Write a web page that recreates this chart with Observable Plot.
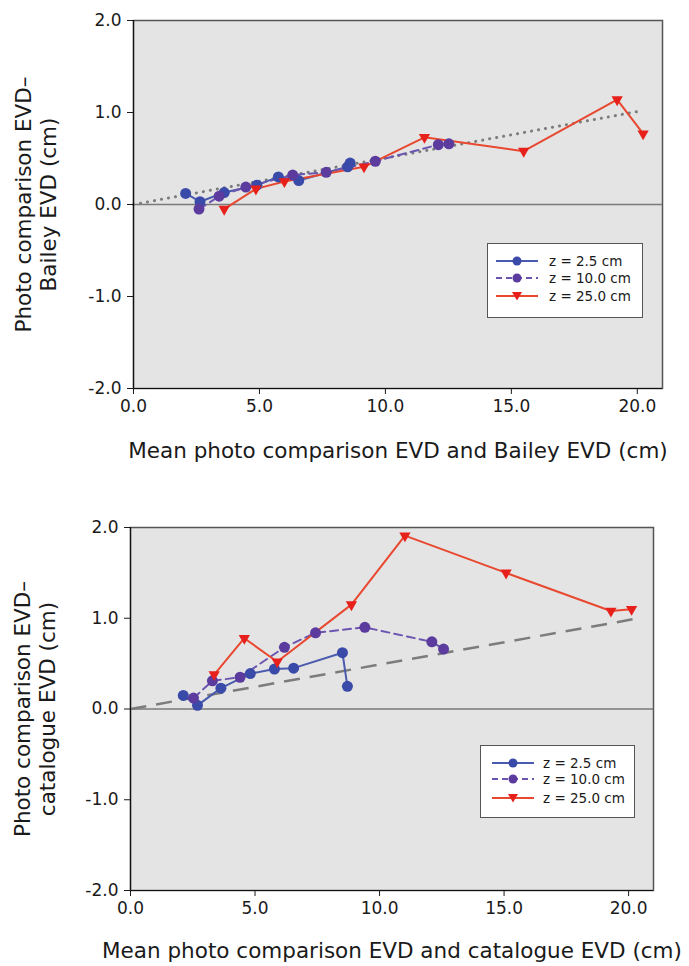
<!DOCTYPE html>
<html>
<head>
<meta charset="utf-8">
<script src="https://cdn.jsdelivr.net/npm/d3@7"></script>
<script src="https://cdn.jsdelivr.net/npm/@observablehq/plot@0.6"></script>
<style>
  html, body { margin: 0; padding: 0; background: #fff; }
  body { width: 689px; height: 966px; position: relative; overflow: hidden; font-family: "DejaVu Sans", sans-serif; }
  .panel { position: absolute; left: 0; }
  .legend { position: absolute; background: #fff; border: 1.5px solid #555; box-sizing: border-box; }
  .legend svg { position: absolute; left: 0; top: 0; }
</style>
</head>
<body>
<div id="top" class="panel" style="top:0"></div>
<div id="bot" class="panel" style="top:480px"></div>
<script>
// ---------- data ----------
const xTicks = [0, 5, 10, 15, 20];
const yTicks = [-2, -1, 0, 1, 2];
const seriesNames = ["z = 2.5 cm", "z = 10.0 cm", "z = 25.0 cm"];

// Top panel: photo comparison vs Bailey
const topBlueX   = [2.07, 2.64, 3.60, 4.90, 5.75, 6.56, 8.50, 8.60];
const topBlueY   = [0.12, 0.03, 0.13, 0.21, 0.30, 0.26, 0.41, 0.45];
const topPurpleX = [2.60, 3.40, 4.46, 6.32, 7.65, 9.60, 12.10, 12.52];
const topPurpleY = [-0.05, 0.09, 0.19, 0.32, 0.35, 0.47, 0.65, 0.66];
const topRedX    = [3.60, 4.86, 5.99, 9.15, 11.55, 15.49, 19.20, 20.23];
const topRedY    = [-0.05, 0.17, 0.25, 0.41, 0.73, 0.58, 1.14, 0.77];
const topRefX    = [0, 20.2];
const topRefY    = [0, 1.02];

// Bottom panel: photo comparison vs catalogue
const botBlueX   = [2.12, 2.69, 3.63, 4.81, 5.78, 6.55, 8.51, 8.71];
const botBlueY   = [0.15, 0.04, 0.23, 0.39, 0.44, 0.45, 0.62, 0.25];
const botPurpleX = [2.53, 3.29, 4.40, 6.18, 7.43, 9.41, 12.10, 12.57];
const botPurpleY = [0.12, 0.31, 0.35, 0.68, 0.84, 0.90, 0.74, 0.66];
const botRedX    = [3.36, 4.57, 5.89, 8.87, 11.02, 15.08, 19.29, 20.12];
const botRedY    = [0.38, 0.78, 0.52, 1.15, 1.91, 1.50, 1.08, 1.10];
const botRefX    = [0, 20.2];
const botRefY    = [0, 0.99];

const topXLabel = "Mean photo comparison EVD and Bailey EVD (cm)";
const topYLabel = "Photo comparison EVD\u2013\nBailey EVD (cm)";
const botXLabel = "Mean photo comparison EVD and catalogue EVD (cm)";
const botYLabel = "Photo comparison EVD\u2013\ncatalogue EVD (cm)";

// ---------- styles ----------
const C = {
  blueLine: "#4a5aae", blueDot: "#3a4aa8",
  purpleLine: "#6b55b0", purpleDot: "#5b3c9e",
  redLine: "#e8482f", redDot: "#e8201c",
  ref: "#7c7c7c", zero: "#7a7a7a", bg: "#e4e4e4"
};

const zip = (xs, ys) => xs.map((x, i) => ({x, y: ys[i]}));

function makeChart(cfg) {
  const blue = zip(cfg.bx, cfg.by), purple = zip(cfg.px, cfg.py), red = zip(cfg.rx, cfg.ry), ref = zip(cfg.refx, cfg.refy);
  return Plot.plot({
    width: 689, height: cfg.height,
    marginLeft: cfg.ml, marginRight: cfg.mr, marginTop: cfg.mt, marginBottom: cfg.mb,
    x: {domain: [0, 21]},
    y: {domain: [-2, 2]},
    style: {fontFamily: "DejaVu Sans, sans-serif", fontSize: "17px", color: "#1a1a1a", background: "transparent", overflow: "visible"},
    marks: [
      Plot.frame({fill: C.bg, stroke: "#555", strokeWidth: 1.5}),
      Plot.ruleY([0], {stroke: C.zero, strokeWidth: 1.5}),
      Plot.line(ref, {x: "x", y: "y", stroke: C.ref, strokeWidth: cfg.refWidth, strokeDasharray: cfg.refDash, strokeLinecap: cfg.refCap}),
      Plot.line(blue, {x: "x", y: "y", stroke: C.blueLine, strokeWidth: 2}),
      Plot.line(purple, {x: "x", y: "y", stroke: C.purpleLine, strokeWidth: 2, strokeDasharray: "8,5"}),
      Plot.line(red, {x: "x", y: "y", stroke: C.redLine, strokeWidth: 2}),
      Plot.dot(blue, {x: "x", y: "y", r: 5.5, fill: C.blueDot}),
      Plot.dot(purple, {x: "x", y: "y", r: 5.5, fill: C.purpleDot}),
      Plot.dot(red, {x: "x", y: "y", r: 4.2, symbol: "triangle", rotate: 180, fill: C.redDot}),
      Plot.ruleX([0], {stroke: "#111", strokeWidth: 1.2}),
      Plot.ruleY([-2], {stroke: "#111", strokeWidth: 1.2}),
      Plot.axisX({ticks: xTicks, tickFormat: d => d.toFixed(1), tickSize: 6, tickPadding: 5, label: null, fontSize: 17}),
      Plot.axisY({ticks: yTicks, tickFormat: d => d.toFixed(1), tickSize: 6, tickPadding: 6, label: null, fontSize: 17}),
      Plot.text([cfg.xLabel], {text: d => d, frameAnchor: "bottom", dy: cfg.xLabelDy, fontSize: 21.5, fill: "#1a1a1a"}),
      Plot.text([cfg.yLabel], {text: d => d, frameAnchor: "left", textAnchor: "middle", lineAnchor: "middle", dx: cfg.yLabelDx, dy: cfg.yLabelDy, rotate: -90, fontSize: 21.5, lineHeight: 1.15, fill: "#1a1a1a"})
    ]
  });
}

document.getElementById("top").appendChild(makeChart({
  height: 480, ml: 133, mr: 27, mt: 20, mb: 92,
  bx: topBlueX, by: topBlueY, px: topPurpleX, py: topPurpleY, rx: topRedX, ry: topRedY,
  refx: topRefX, refy: topRefY, refWidth: 3, refDash: "0.1,7", refCap: "round",
  xLabel: topXLabel, yLabel: topYLabel, xLabelDy: 69, yLabelDx: -98, yLabelDy: 0
}));

document.getElementById("bot").appendChild(makeChart({
  height: 486, ml: 130, mr: 36, mt: 47, mb: 76,
  bx: botBlueX, by: botBlueY, px: botPurpleX, py: botPurpleY, rx: botRedX, ry: botRedY,
  refx: botRefX, refy: botRefY, refWidth: 2.5, refDash: "16,10", refCap: "butt",
  xLabel: botXLabel, yLabel: botYLabel, xLabelDy: 67, yLabelDx: -96, yLabelDy: 0
}));

// ---------- legends ----------
function legend(left, top, w, h, rows, lineX0, lineX1, textX) {
  const div = document.createElement("div");
  div.className = "legend";
  Object.assign(div.style, {left: left + "px", top: top + "px", width: w + "px", height: h + "px"});
  const ns = "http://www.w3.org/2000/svg";
  const svg = document.createElementNS(ns, "svg");
  svg.setAttribute("width", w); svg.setAttribute("height", h);
  const specs = [
    {stroke: C.blueLine, dash: null, fill: C.blueDot, shape: "circle"},
    {stroke: C.purpleLine, dash: "6,4", fill: C.purpleDot, shape: "circle"},
    {stroke: C.redLine, dash: null, fill: C.redDot, shape: "tri"}
  ];
  specs.forEach((s, i) => {
    const y = rows[i];
    const ln = document.createElementNS(ns, "line");
    ln.setAttribute("x1", lineX0); ln.setAttribute("x2", lineX1);
    ln.setAttribute("y1", y); ln.setAttribute("y2", y);
    ln.setAttribute("stroke", s.stroke); ln.setAttribute("stroke-width", 2);
    if (s.dash) ln.setAttribute("stroke-dasharray", s.dash);
    svg.appendChild(ln);
    const cx = (lineX0 + lineX1) / 2;
    let m;
    if (s.shape === "circle") {
      m = document.createElementNS(ns, "circle");
      m.setAttribute("cx", cx); m.setAttribute("cy", y); m.setAttribute("r", 4.5);
    } else {
      m = document.createElementNS(ns, "path");
      m.setAttribute("d", `M${cx - 5},${y - 4}L${cx + 5},${y - 4}L${cx},${y + 4.5}Z`);
    }
    m.setAttribute("fill", s.fill);
    svg.appendChild(m);
    const t = document.createElementNS(ns, "text");
    t.setAttribute("x", textX); t.setAttribute("y", y);
    t.setAttribute("dy", "0.35em");
    t.setAttribute("font-family", "DejaVu Sans, sans-serif");
    t.setAttribute("font-size", "13.5");
    t.setAttribute("fill", "#1a1a1a");
    t.textContent = seriesNames[i];
    svg.appendChild(t);
  });
  div.appendChild(svg);
  document.body.appendChild(div);
}
legend(487, 243, 156, 75, [17, 34, 52], 8, 50, 61);
legend(480, 745, 155, 73, [17, 33, 52], 11, 53, 62);
</script>
</body>
</html>
